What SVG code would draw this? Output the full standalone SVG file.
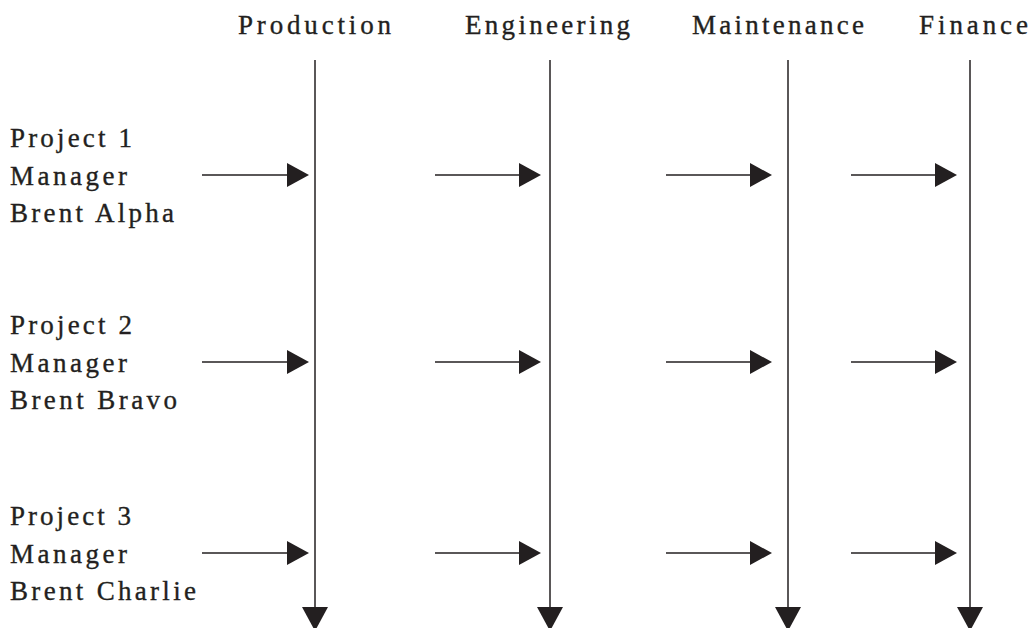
<svg xmlns="http://www.w3.org/2000/svg" width="1030" height="628" viewBox="0 0 1030 628">
<style>
text{font-family:"Liberation Serif","Times New Roman",serif;font-size:27px;fill:#231f20;stroke:#231f20;stroke-width:0.35}
.hd{text-anchor:middle}
.ln{stroke:#231f20;stroke-width:1.5;fill:none}
</style>
<defs>
<marker id="ah" markerUnits="userSpaceOnUse" markerWidth="22" markerHeight="24" refX="0" refY="12" orient="auto" viewBox="0 0 22 24">
<path d="M0,0 L22,12 L0,24 Z" fill="#231f20"/>
</marker>
<marker id="av" markerUnits="userSpaceOnUse" markerWidth="24" markerHeight="26" refX="0" refY="13" orient="auto" viewBox="0 0 24 26">
<path d="M0,0 L24,13 L0,26 Z" fill="#231f20"/>
</marker>
</defs>
<rect width="1030" height="628" fill="#fff"/>
<g id="header-production"><text class="hd" x="314.5" y="34" textLength="153" lengthAdjust="spacing">Production</text></g>
<g id="header-engineering"><text class="hd" x="547.5" y="34" textLength="165" lengthAdjust="spacing">Engineering</text></g>
<g id="header-maintenance"><text class="hd" x="778" y="34" textLength="172" lengthAdjust="spacing">Maintenance</text></g>
<g id="header-finance"><text class="hd" x="973.5" y="34" textLength="109" lengthAdjust="spacing">Finance</text></g>
<g id="project-1">
<text x="10" y="147" textLength="122" lengthAdjust="spacing">Project 1</text>
<text x="10" y="185" textLength="117" lengthAdjust="spacing">Manager</text>
<text x="10" y="222" textLength="164" lengthAdjust="spacing">Brent Alpha</text>
</g>
<g id="project-2">
<text x="10" y="334" textLength="122" lengthAdjust="spacing">Project 2</text>
<text x="10" y="372" textLength="117" lengthAdjust="spacing">Manager</text>
<text x="10" y="409" textLength="167" lengthAdjust="spacing">Brent Bravo</text>
</g>
<g id="project-3">
<text x="10" y="525" textLength="121" lengthAdjust="spacing">Project 3</text>
<text x="10" y="563" textLength="117" lengthAdjust="spacing">Manager</text>
<text x="10" y="600" textLength="186" lengthAdjust="spacing">Brent Charlie</text>
</g>
<g id="connectors">
<line class="ln" x1="315" y1="60" x2="315" y2="607" marker-end="url(#av)"/>
<line class="ln" x1="550" y1="60" x2="550" y2="607" marker-end="url(#av)"/>
<line class="ln" x1="788" y1="60" x2="788" y2="607" marker-end="url(#av)"/>
<line class="ln" x1="970" y1="60" x2="970" y2="607" marker-end="url(#av)" stroke="#555"/>
<line class="ln" x1="202" y1="175" x2="287" y2="175" marker-end="url(#ah)"/>
<line class="ln" x1="435" y1="175" x2="519" y2="175" marker-end="url(#ah)"/>
<line class="ln" x1="666" y1="175" x2="750" y2="175" marker-end="url(#ah)"/>
<line class="ln" x1="851" y1="175" x2="935" y2="175" marker-end="url(#ah)"/>
<line class="ln" x1="202" y1="362" x2="287" y2="362" marker-end="url(#ah)"/>
<line class="ln" x1="435" y1="362" x2="519" y2="362" marker-end="url(#ah)"/>
<line class="ln" x1="666" y1="362" x2="750" y2="362" marker-end="url(#ah)"/>
<line class="ln" x1="851" y1="362" x2="935" y2="362" marker-end="url(#ah)"/>
<line class="ln" x1="202" y1="553" x2="287" y2="553" marker-end="url(#ah)"/>
<line class="ln" x1="435" y1="553" x2="519" y2="553" marker-end="url(#ah)"/>
<line class="ln" x1="666" y1="553" x2="750" y2="553" marker-end="url(#ah)"/>
<line class="ln" x1="851" y1="553" x2="935" y2="553" marker-end="url(#ah)"/>
</g>
</svg>
